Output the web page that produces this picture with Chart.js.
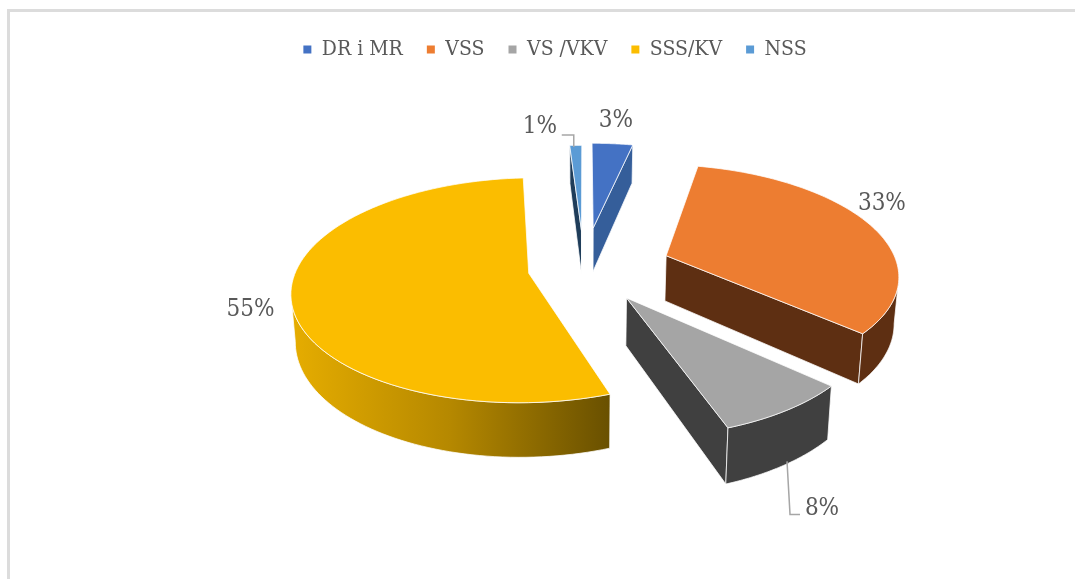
<!DOCTYPE html>
<html>
<head>
<meta charset="utf-8">
<title>Pie</title>
<script src="https://cdn.jsdelivr.net/npm/chart.js@4"></script>
<style>
    body { margin: 0; background: #fff; }
    #wrap { position: relative; width: 1075px; height: 579px; overflow: hidden; }
    #frame { position: absolute; left: 7px; top: 9px; width: 1070px; height: 580px; border-top: 3px solid #dcdcdc; border-left: 3px solid #dcdcdc; }
    canvas { position: absolute; left: 0; top: 0; }
</style>
</head>
<body>
<div id="wrap">
    <div id="frame"></div>
    <canvas id="pieChart" width="1075" height="579"></canvas>
</div>
<script>
var categories = ['DR i MR', 'VSS', 'VS /VKV', 'SSS/KV', 'NSS'];
var shares = [3.4, 33.4, 7.9, 54.5, 1];
var pctLabels = ['3%', '33%', '8%', '55%', '1%'];

var topColors = ['#4472c4', '#ed7d31', '#a5a5a5', '#fbbd00', '#5b9bd5'];
var wallColors = ['#355e9a', '#5e2f12', '#404040', '#c79600', '#1f3d5a'];
var explode = [365, 351, 295, 224, 337];

// how far each percent label sits from the middle of its outer edge
var labelShift = [[3.5, -22.5], [11.5, -21], [35.5, 98], [-40.5, 14], [-36, -18.5]];
// elbow lines, relative to the label
var leaders = { 2: [[-22, 6], [-32, 6], [-35, -47]], 4: [[22, 8], [34, 8], [34, 20]] };

// fake 3D view of the flat pie
var view = { shiftX: 29, shiftY: -56.5, squash: 0.467, persp: 0.15, depth: 46, shrink: 0.985 };

function project(arc, u, v) {
    var w = 1 - view.persp * v;
    return {
        x: arc.x + view.shiftX + u * arc.outerRadius / w,
        y: arc.y + view.shiftY + v * arc.outerRadius * view.squash / w,
        w: w
    };
}

function lower(arc, p) {
    var cx = arc.x + view.shiftX;
    return { x: cx + (p.x - cx) * view.shrink, y: p.y + view.depth / p.w };
}

function apexOf(arc) {
    var mid = (arc.startAngle + arc.endAngle) / 2;
    var e = arc.options.offset / 4 / arc.outerRadius;
    return { u: Math.cos(mid) * e, v: Math.sin(mid) * e };
}

function rim(arc, a) {
    var c = apexOf(arc);
    return project(arc, c.u + Math.cos(a), c.v + Math.sin(a));
}

// the outer wall only shows between the rightmost and leftmost rim points
function wallRange(arc) {
    var from = Math.max(arc.startAngle, 0), to = Math.min(arc.endAngle, Math.PI);
    if (to <= from) return null;
    var best = { from: from, to: to, hi: -Infinity, lo: Infinity };
    for (var s = 0; s <= 300; s++) {
        var a = from + (to - from) * s / 300;
        var x = rim(arc, a).x;
        if (x > best.hi) { best.hi = x; best.from = a; }
        if (x < best.lo) { best.lo = x; best.to = a; }
    }
    return best;
}

function tracePath(ctx, pts) {
    ctx.beginPath();
    pts.forEach(function(p, i) {
        if (i == 0) ctx.moveTo(p.x, p.y); else ctx.lineTo(p.x, p.y);
    });
    ctx.closePath();
}

function paint(ctx, pts, fill) {
    tracePath(ctx, pts);
    ctx.fillStyle = fill;
    ctx.fill();
    ctx.strokeStyle = 'rgba(255,255,255,0.75)';
    ctx.lineWidth = 1;
    ctx.stroke();
}

function drawSlice(ctx, arc, i) {
    var c = apexOf(arc);
    var apex = project(arc, c.u, c.v);
    var start = arc.startAngle, end = arc.endAngle;

    // radial walls, only the ones turned to the viewer
    [start, end].forEach(function(a, side) {
        var facing = side == 0 ? -Math.cos(a) : Math.cos(a);
        if (facing > 0) {
            var p = rim(arc, a);
            paint(ctx, [apex, p, lower(arc, p), lower(arc, apex)], wallColors[i]);
        }
    });

    // outer wall
    var range = wallRange(arc);
    if (range) {
        var upper = [], bottom = [];
        for (var s = 0; s <= 60; s++) {
            var p = rim(arc, range.from + (range.to - range.from) * s / 60);
            upper.push(p);
            bottom.unshift(lower(arc, p));
        }
        var fill = wallColors[i];
        if (i == 3) {
            var g = ctx.createLinearGradient(upper[upper.length - 1].x, 0, upper[0].x, 0);
            g.addColorStop(0, '#e6ad00');
            g.addColorStop(0.5, '#b58800');
            g.addColorStop(1, '#695000');
            fill = g;
        }
        paint(ctx, upper.concat(bottom), fill);
    }

    // top face
    var face = [apex];
    for (var t = 0; t <= 90; t++) face.push(rim(arc, start + (end - start) * t / 90));
    paint(ctx, face, topColors[i]);
}

var pie3d = {
    id: 'pie3d',
    beforeDatasetDraw: function(chart, args) {
        var ctx = chart.ctx;
        var arcs = args.meta.data;
        var order = arcs.map(function(a, i) { return i; });
        order.sort(function(a, b) { return apexOf(arcs[a]).v - apexOf(arcs[b]).v; });
        ctx.save();
        order.forEach(function(i) { drawSlice(ctx, arcs[i], i); });
        ctx.restore();
        return false; // the library's flat arcs are replaced by the faces above
    },
    afterDatasetsDraw: function(chart) {
        var ctx = chart.ctx;
        var arcs = chart.getDatasetMeta(0).data;
        ctx.save();
        ctx.font = '24px "DejaVu Serif Condensed", "DejaVu Serif"';
        ctx.textAlign = 'center';
        ctx.textBaseline = 'middle';
        arcs.forEach(function(arc, i) {
            var p = rim(arc, (arc.startAngle + arc.endAngle) / 2);
            var x = p.x + labelShift[i][0];
            var y = p.y + labelShift[i][1];
            ctx.fillStyle = '#595959';
            ctx.fillText(pctLabels[i], x, y);
            if (leaders[i]) {
                ctx.beginPath();
                leaders[i].forEach(function(l, n) {
                    if (n == 0) ctx.moveTo(x + l[0], y + l[1]); else ctx.lineTo(x + l[0], y + l[1]);
                });
                ctx.strokeStyle = '#a6a6a6';
                ctx.lineWidth = 1.5;
                ctx.stroke();
            }
        });
        ctx.restore();
    }
};

var chart = new Chart(document.getElementById('pieChart').getContext('2d'), {
    type: 'pie',
    data: {
        labels: categories,
        datasets: [{
            data: shares,
            backgroundColor: topColors,
            borderWidth: 0,
            offset: explode
        }]
    },
    options: {
        responsive: false,
        animation: false,
        radius: 232,
        layout: { padding: { left: 35, top: 15 } },
        plugins: {
            tooltip: { enabled: false },
            legend: {
                position: 'top',
                labels: {
                    boxWidth: 8,
                    boxHeight: 8,
                    padding: 24,
                    color: '#595959',
                    font: { family: '"DejaVu Serif Condensed", "DejaVu Serif"', size: 21 }
                }
            }
        }
    },
    plugins: [pie3d]
});
</script>
</body>
</html>
